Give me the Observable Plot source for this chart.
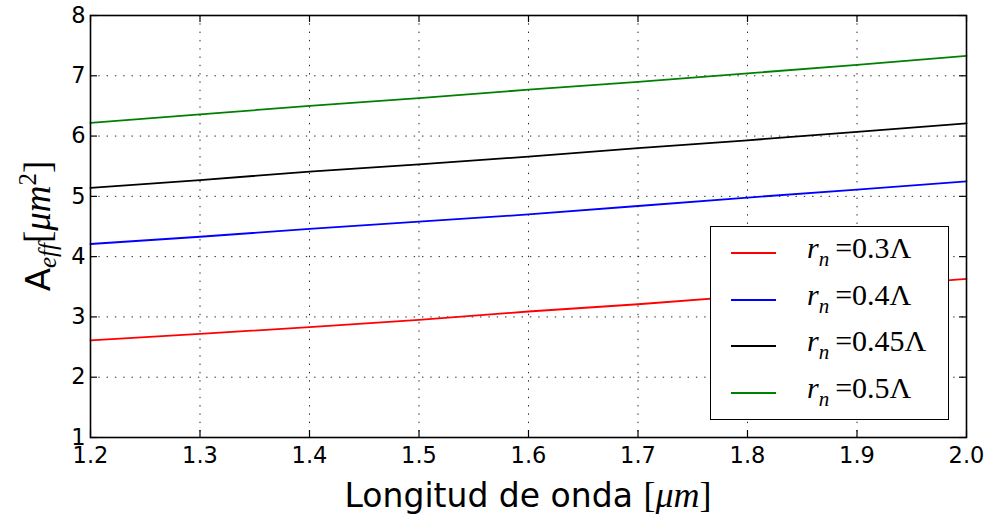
<!DOCTYPE html>
<html>
<head>
<meta charset="utf-8">
<script src="https://cdn.jsdelivr.net/npm/d3@7"></script>
<script src="https://cdn.jsdelivr.net/npm/@observablehq/plot@0.6"></script>
<style>
  body { margin: 0; background: white; }
  #wrap { position: relative; width: 993px; height: 514px; }
  #legend {
    position: absolute; left: 710px; top: 226px; width: 237px; height: 192px;
    border: 1.6px solid black; background: white; box-sizing: content-box;
  }
  .row { position: absolute; left: 0; height: 30px; width: 100%; }
  .sw { position: absolute; left: 20px; width: 45px; height: 2px; top: 14px; }
  .lab { position: absolute; left: 96px; top: -7px; font-family: "Liberation Serif", serif; font-size: 30px; white-space: nowrap; }
  .lab i { font-style: italic; }
  .lab sub { font-style: italic; font-size: 21px; vertical-align: -8px; line-height: 0; }
</style>
</head>
<body>
<div id="wrap"></div>
<script>
const wavelengths = [1.2, 1.3, 1.4, 1.5, 1.6, 1.7, 1.8, 1.9, 2.0];
const seriesNames = ["0.3Λ", "0.4Λ", "0.45Λ", "0.5Λ"];
const seriesColors = ["#ff0000", "#0000ff", "#000000", "#008000"];
const aeff03 = [2.61, 2.72, 2.83, 2.95, 3.09, 3.21, 3.35, 3.49, 3.63];
const aeff04 = [4.21, 4.33, 4.46, 4.58, 4.70, 4.84, 4.98, 5.11, 5.25];
const aeff045 = [5.14, 5.27, 5.41, 5.53, 5.66, 5.80, 5.93, 6.07, 6.21];
const aeff05 = [6.22, 6.36, 6.50, 6.63, 6.77, 6.90, 7.04, 7.18, 7.33];
const xTicks = [1.2, 1.3, 1.4, 1.5, 1.6, 1.7, 1.8, 1.9, 2.0];
const yTicks = [1, 2, 3, 4, 5, 6, 7, 8];

const allValues = [aeff03, aeff04, aeff045, aeff05];
const data = [];
allValues.forEach((vals, i) => {
  vals.forEach((v, j) => data.push({x: wavelengths[j], y: v, s: seriesNames[i], c: seriesColors[i]}));
});

const W = 993, H = 514, mL = 90, mR = 27, mT = 15, mB = 77;
const innerH = H - mT - mB, innerW = W - mL - mR;
const tl = 7;
const grid = {stroke: "#000", strokeWidth: 1, strokeDasharray: "1.4,6.9", strokeOpacity: 0.85};

const chart = Plot.plot({
  width: W, height: H,
  marginLeft: mL, marginRight: mR, marginTop: mT, marginBottom: mB,
  style: {fontFamily: "DejaVu Sans", fontSize: "22.5px", background: "white", color: "black"},
  x: {domain: [1.2, 2.0]},
  y: {domain: [1, 8]},
  color: {type: "identity"},
  marks: [
    Plot.ruleX(xTicks.slice(1, -1), {x: d => d, ...grid}),
    Plot.ruleY(yTicks.slice(1, -1), {y: d => d, ...grid}),
    Plot.line(data, {x: "x", y: "y", z: "s", stroke: "c", strokeWidth: 1.8}),
    Plot.tickX(xTicks, {x: d => d, insetTop: innerH - tl, stroke: "black", strokeWidth: 1.2}),
    Plot.tickX(xTicks, {x: d => d, insetBottom: innerH - tl, stroke: "black", strokeWidth: 1.2}),
    Plot.tickY(yTicks, {y: d => d, insetRight: innerW - tl, stroke: "black", strokeWidth: 1.2}),
    Plot.tickY(yTicks, {y: d => d, insetLeft: innerW - tl, stroke: "black", strokeWidth: 1.2}),
    Plot.frame({stroke: "black", strokeWidth: 1.6}),
    Plot.axisX(xTicks, {tickSize: 0, tickPadding: 10, tickFormat: d3.format(".1f"), label: null, fontSize: 22.5}),
    Plot.axisY(yTicks, {tickSize: 0, tickPadding: 5, tickFormat: d3.format("d"), label: null, fontSize: 22.5})
  ]
});

const wrap = document.getElementById("wrap");
wrap.appendChild(chart);

const svg = d3.select(chart);
// x label
const xl = svg.append("text")
  .attr("x", mL + innerW / 2).attr("y", 507)
  .attr("text-anchor", "middle")
  .attr("font-family", "DejaVu Sans").attr("font-size", 33).attr("fill", "black");
xl.append("tspan").text("Longitud de onda ");
xl.append("tspan").attr("font-family", "Liberation Serif").attr("font-size", 36).text("[");
xl.append("tspan").attr("font-family", "Liberation Serif").attr("font-size", 36).attr("font-style", "italic").text("μm");
xl.append("tspan").attr("font-family", "Liberation Serif").attr("font-size", 36).text("]");

// y label
const yl = svg.append("text")
  .attr("transform", `translate(50,${mT + innerH / 2}) rotate(-90)`)
  .attr("text-anchor", "middle")
  .attr("font-family", "DejaVu Sans").attr("font-size", 34).attr("fill", "black");
yl.append("tspan").text("A");
yl.append("tspan").attr("font-family", "Liberation Serif").attr("font-style", "italic").attr("font-size", 25).attr("dy", 6).text("eff");
yl.append("tspan").attr("font-family", "Liberation Serif").attr("font-size", 37).attr("dy", -6).text("[");
yl.append("tspan").attr("font-family", "Liberation Serif").attr("font-size", 37).attr("font-style", "italic").text("μm");
yl.append("tspan").attr("font-family", "Liberation Serif").attr("font-size", 25).attr("dy", -14).text("2");
yl.append("tspan").attr("font-family", "Liberation Serif").attr("font-size", 37).attr("dy", 14).text("]");

// legend
const legend = document.createElement("div");
legend.id = "legend";
seriesNames.forEach((name, i) => {
  const row = document.createElement("div");
  row.className = "row";
  row.style.top = (11 + i * 46.7) + "px";
  const sw = document.createElement("div");
  sw.className = "sw";
  sw.style.background = seriesColors[i];
  const lab = document.createElement("div");
  lab.className = "lab";
  lab.innerHTML = `<i>r</i><sub>n</sub>&thinsp;=${name}`;
  row.appendChild(sw);
  row.appendChild(lab);
  legend.appendChild(row);
});
wrap.appendChild(legend);
</script>
</body>
</html>
